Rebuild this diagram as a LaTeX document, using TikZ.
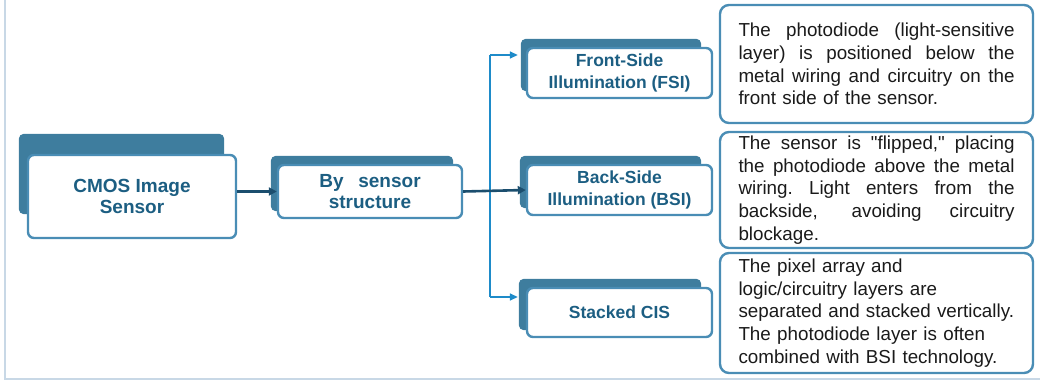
\documentclass[tikz,border=0pt]{standalone}
\usepackage{fontspec}
\setmainfont{Liberation Sans}
\newfontfamily\qfont[Ligatures=TeXOff]{Liberation Sans}
\usetikzlibrary{arrows.meta,calc}
\definecolor{backblue}{HTML}{3E7D9E}
\definecolor{edgeblue}{HTML}{4A8DB5}
\definecolor{labelblue}{HTML}{1C5E82}
\definecolor{darknavy}{HTML}{1B4E6E}
\definecolor{linkblue}{HTML}{1E8BC9}
\definecolor{frameline}{HTML}{C8D8E6}
\definecolor{desctext}{HTML}{1A1A1A}
\pgfdeclarelayer{bg}
\pgfsetlayers{bg,main}
\newcommand{\jline}[1]{\leavevmode\hbox to 276pt{\spaceskip=0.278em plus 1fil\relax\xspaceskip=\spaceskip #1}}
\newcommand{\sq}{{\qfont"}}
\begin{document}
\begin{tikzpicture}[x=1pt,y=-1pt,
  frontbox/.style={draw=edgeblue, line width=2.4pt, fill=white, rounded corners=6pt,
    inner sep=0pt, align=center, text=labelblue},
  bigfont/.style={font=\bfseries\fontsize{19}{21.5}\selectfont},
  midfont/.style={font=\bfseries\fontsize{17.5}{22}\selectfont},
  backbox/.style={fill=backblue, rounded corners=5pt},
  descbox/.style={draw=edgeblue, line width=2.4pt, fill=white, rounded corners=9pt,
    inner sep=0pt, minimum width=313pt, text width=276pt, align=left, text=desctext,
    font=\fontsize{18.8}{22.7}\selectfont},
  mainlink/.style={draw=darknavy, line width=2.6pt, -{Triangle[length=8pt,width=8pt]}},
  branchlink/.style={draw=linkblue, line width=1.5pt},
  brancharrow/.style={draw=linkblue, line width=1.5pt, -{Triangle[length=8pt,width=7pt]}},
  frame/.style={draw=frameline, line width=2pt}
]
\useasboundingbox (0,0) rectangle (1040,382);

% outer frame lines
\coordinate (ftop) at (5,0);
\coordinate (fcorner) at (5,379);
\coordinate (fright) at (1040,379);
\draw[frame] (ftop) -- (fcorner) -- (fright);

% front boxes
\node[frontbox, bigfont, minimum width=208pt, minimum height=83pt] (cmos) at (132,196.5) {CMOS Image\\Sensor};
\node[frontbox, bigfont, minimum width=184pt, minimum height=53pt] (by) at (370,191.5) {By\hspace{0.5em} sensor\\structure};
\node[frontbox, midfont, minimum width=185pt, minimum height=50pt] (fsi) at (619.5,73) {Front-Side\\Illumination (FSI)};
\node[frontbox, midfont, minimum width=185pt, minimum height=50pt] (bsi) at (619.5,190) {Back-Side\\Illumination (BSI)};
\node[frontbox, midfont, minimum width=185pt, minimum height=49pt] (stk) at (619.5,312.5) {Stacked CIS};

% back (shadow) boxes
\begin{pgfonlayer}{bg}
\fill[backbox] ([shift={(-8,-20)}]cmos.north west) rectangle ([shift={(-13,-25)}]cmos.south east);
\fill[backbox] ([shift={(-6,-8)}]by.north west) rectangle ([shift={(-10,-8)}]by.south east);
\fill[backbox] ([shift={(-5,-8)}]fsi.north west) rectangle ([shift={(-12,-8)}]fsi.south east);
\fill[backbox] ([shift={(-6,-8)}]bsi.north west) rectangle ([shift={(-12,-8)}]bsi.south east);
\fill[backbox] ([shift={(-7,-8)}]stk.north west) rectangle ([shift={(-12,-8)}]stk.south east);
\end{pgfonlayer}

% description boxes
\node[descbox, minimum height=118pt] (dfsi) at (876.5,64) {%
\jline{The photodiode (light-sensitive}\\
\jline{layer) is positioned below the}\\
\jline{metal wiring and circuitry on the}\\
front side of the sensor.};
\node[descbox, minimum height=116pt] (dbsi) at (876.5,190) {%
\jline{The sensor is \sq flipped,\sq{} placing}\\
\jline{the photodiode above the metal}\\
\jline{wiring. Light enters from the}\\
\jline{backside, avoiding circuitry}\\
blockage.};
\node[descbox, minimum height=120pt] (dstk) at (876.5,313) {%
The pixel array and\\
logic/circuitry layers are\\
separated and stacked vertically.\\
The photodiode layer is often\\
combined with BSI technology.};

% connectors
\coordinate (jtop) at (490,55);
\coordinate (jbot) at (490,297);
\draw[branchlink] (jtop) -- (jbot);
\draw[brancharrow, shorten >=8pt] (jtop) -- (jtop -| fsi.west);
\draw[brancharrow, shorten >=8pt] (jbot) -- (jbot -| stk.west);
\draw[mainlink] (cmos.east |- by.west) -- (by.west);
\draw[mainlink] (by.east) -- (bsi.west);
\end{tikzpicture}
\end{document}
